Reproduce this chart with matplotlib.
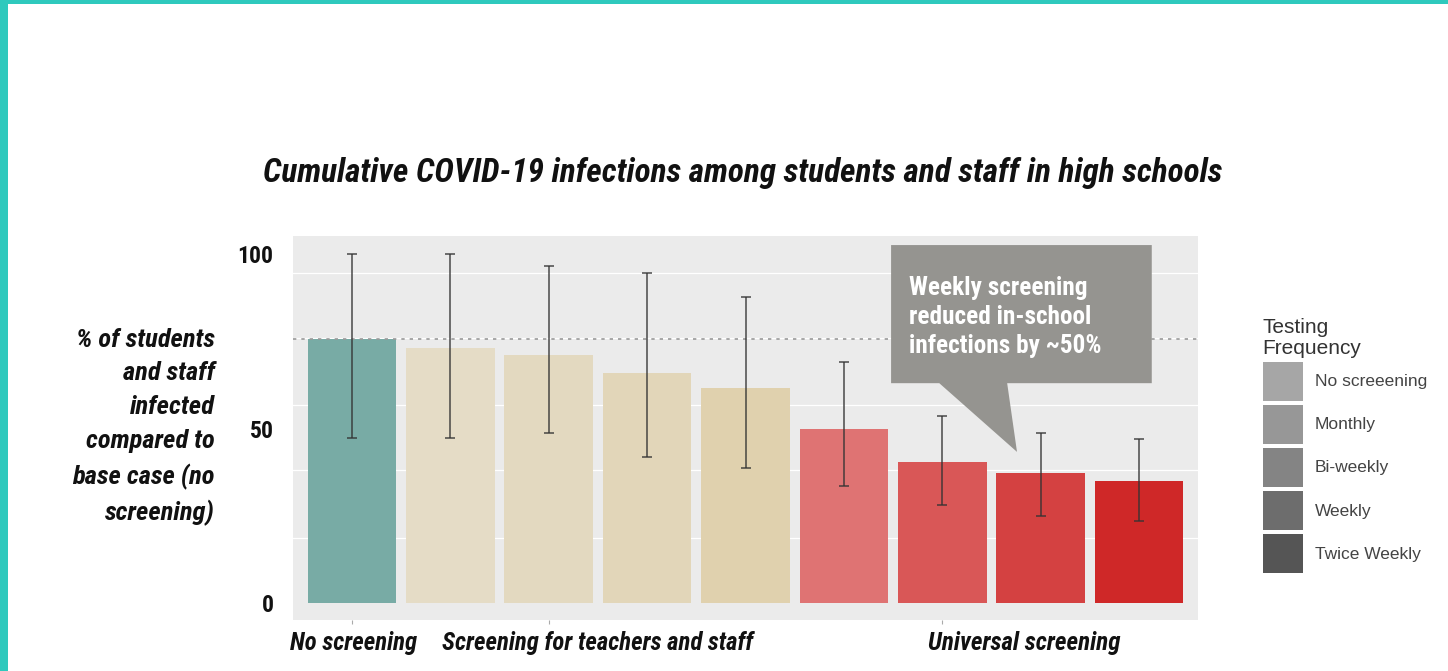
import matplotlib.pyplot as plt
from matplotlib import font_manager as fm
from matplotlib.patches import Patch, Polygon, Rectangle
from matplotlib.transforms import blended_transform_factory

# Data (y = % of base case)
bar_labels = [
    "No screening",
    "Teachers/staff monthly",
    "Teachers/staff bi-weekly",
    "Teachers/staff weekly",
    "Teachers/staff twice weekly",
    "Universal monthly",
    "Universal bi-weekly",
    "Universal weekly",
    "Universal twice weekly",
]
bar_values = [75.6, 73.1, 71.1, 65.9, 61.6, 49.9, 40.4, 37.2, 35.0]
err_low = [47.3, 47.3, 48.7, 41.8, 38.7, 33.5, 28.1, 24.9, 23.5]
err_high = [100.0, 100.0, 96.6, 94.6, 87.7, 69.1, 53.6, 48.7, 47.0]
bar_colors = [
    "#78aba5",
    "#e5dcc6", "#e3d9c0", "#e2d6b9", "#e0d1ae",
    "#df7373", "#d95757", "#d44141", "#cf2828",
]

group_labels = ["No screening", "Screening for teachers and staff", "Universal screening"]
group_x = [0.02, 2.5, 6.83]

legend_labels = ["No screeening", "Monthly", "Bi-weekly", "Weekly", "Twice Weekly"]
legend_colors = ["#a6a6a6", "#979797", "#848484", "#6d6d6d", "#555555"]

y_ticks = [0, 50, 100]
grid_y = [18.6, 38.1, 56.7, 75.9, 94.6]


def pick_narrow():
    # condensed face if one is installed, otherwise a fairly narrow sans
    names = {f.name for f in fm.fontManager.ttflist}
    for n in ["Liberation Sans Narrow", "Roboto Condensed", "Open Sans Condensed"]:
        if n in names:
            return n, "normal"
    for f in fm.fontManager.ttflist:
        if f.name == "DejaVu Sans" and "condensed" in f.fname.lower():
            return "DejaVu Sans", "condensed"
    return "Roboto", "normal"


NARROW, STRETCH = pick_narrow()
TXT = "#111111"

fig = plt.figure(figsize=(14.48, 6.71), dpi=100)
fig.patch.set_facecolor("white")

# teal frame at top and left
fig.add_artist(Rectangle((0, 1 - 4 / 671), 1, 4 / 671, transform=fig.transFigure,
                         facecolor="#2ec9bd", edgecolor="none"))
fig.add_artist(Rectangle((0, 0), 8 / 1448, 1, transform=fig.transFigure,
                         facecolor="#2ec9bd", edgecolor="none"))

ax = fig.add_axes([293 / 1448, 1 - 620 / 671, 905 / 1448, 384 / 671])
ax.set_facecolor("#ebebeb")
for s in ax.spines.values():
    s.set_visible(False)

x = list(range(len(bar_values)))

# grid
ax.set_yticks(grid_y, minor=True)
ax.set_xticks([0, 2, 6], minor=True)
ax.grid(True, which="minor", color="white", linewidth=0.9, zorder=0)
ax.tick_params(which="minor", length=0)
ax.set_axisbelow(True)

ax.bar(x, bar_values, width=0.9, color=bar_colors, zorder=2)

# error bars
lower = [v - lo for v, lo in zip(bar_values, err_low)]
upper = [hi - v for v, hi in zip(bar_values, err_high)]
ax.errorbar(x, bar_values, yerr=[lower, upper], fmt="none", ecolor="#333333",
            elinewidth=1.3, capsize=3.5, capthick=1.3, alpha=0.75, zorder=3)

# dotted reference at base case
ax.axhline(bar_values[0], color="#9a9a9a", linestyle=(0, (2, 3)), linewidth=1.2, zorder=2.5)

ax.set_xlim(-0.6, 8.6)
ax.set_ylim(-4.9, 105.2)

ax.set_yticks(y_ticks)
ax.set_yticklabels([str(t) for t in y_ticks], fontfamily=NARROW, fontstretch=STRETCH,
                   fontweight="bold", fontsize=17, color=TXT)
ax.tick_params(axis="y", which="major", length=0, pad=14)
ax.set_xticks([0, 2, 6])
ax.set_xticklabels([])
ax.tick_params(axis="x", which="major", length=3, color="#aaaaaa")

# group labels under the axis
group_widths = [128, 313, 194]
trans = blended_transform_factory(ax.transData, fig.transFigure)
group_texts = []
for gx, gl in zip(group_x, group_labels):
    t = ax.text(gx, 1 - 643 / 671, gl, transform=trans, ha="center", va="center",
                fontfamily=NARROW, fontstretch=STRETCH, fontweight="bold",
                fontstyle="italic", fontsize=15, color=TXT, clip_on=False)
    group_texts.append(t)

# callout
box = Polygon([(5.48, 102.6), (8.13, 102.6), (8.13, 63.0), (6.66, 63.0),
               (6.76, 43.3), (5.97, 63.0), (5.48, 63.0)],
              closed=True, facecolor="#959490", edgecolor="none", zorder=4)
ax.add_patch(box)
callout = ax.text(5.665, 82.0, "Weekly screening\nreduced in-school\ninfections by ~50%",
                  ha="left", va="center", fontfamily=NARROW, fontstretch=STRETCH,
                  fontweight="bold", fontsize=13, color="white", linespacing=1.3,
                  zorder=5)

# title
title = fig.text(743 / 1448, 1 - 173 / 671,
                 "Cumulative COVID-19 infections among students and staff in high schools",
                 ha="center", va="center", fontfamily=NARROW, fontstretch=STRETCH,
                 fontweight="bold", fontstyle="italic", fontsize=20, color=TXT)

# y axis label
ylab = fig.text(215 / 1448, 1 - 427 / 671,
                "% of students\nand staff\ninfected\ncompared to\nbase case (no\nscreening)",
                ha="right", va="center", multialignment="right", fontfamily=NARROW,
                fontstretch=STRETCH, fontweight="bold", fontstyle="italic",
                fontsize=15, color=TXT, linespacing=1.5)

# legend
handles = [Patch(facecolor=c, edgecolor="none") for c in legend_colors]
leg = fig.legend(handles, legend_labels, title="Testing\nFrequency",
                 loc="upper left", bbox_to_anchor=(1247 / 1448, 1 - 302 / 671),
                 frameon=False, title_fontsize=15,
                 handlelength=2.35, handleheight=3.1, labelspacing=0.22,
                 handletextpad=0.65, alignment="left",
                 prop={"family": "Liberation Sans", "size": 12.5})
leg.get_title().set_family("Liberation Sans")
leg.get_title().set_color("#333333")
leg.get_title().set_linespacing(1.15)
leg._legend_handle_box.sep = 8
for t in leg.get_texts():
    t.set_color("#444444")


def fit_width(text, target_px, line_gap_px=None):
    # scale font so the text block spans the width measured on the reference
    r = fig.canvas.get_renderer()
    w = text.get_window_extent(r).width
    text.set_fontsize(text.get_fontsize() * target_px / w)
    if line_gap_px is not None:
        n = text.get_text().count("\n")
        text.set_linespacing(1.0)
        h1 = text.get_window_extent(r).height
        text.set_linespacing(2.0)
        h2 = text.get_window_extent(r).height
        per_ls = (h2 - h1) / n
        text.set_linespacing(0.87 * line_gap_px / per_ls)


fit_width(title, 957)
for t, w in zip(group_texts, group_widths):
    fit_width(t, w)
fit_width(ylab, 143, 34)
fit_width(callout, 192, 27.5)

fig.savefig("out.png", dpi=100)
